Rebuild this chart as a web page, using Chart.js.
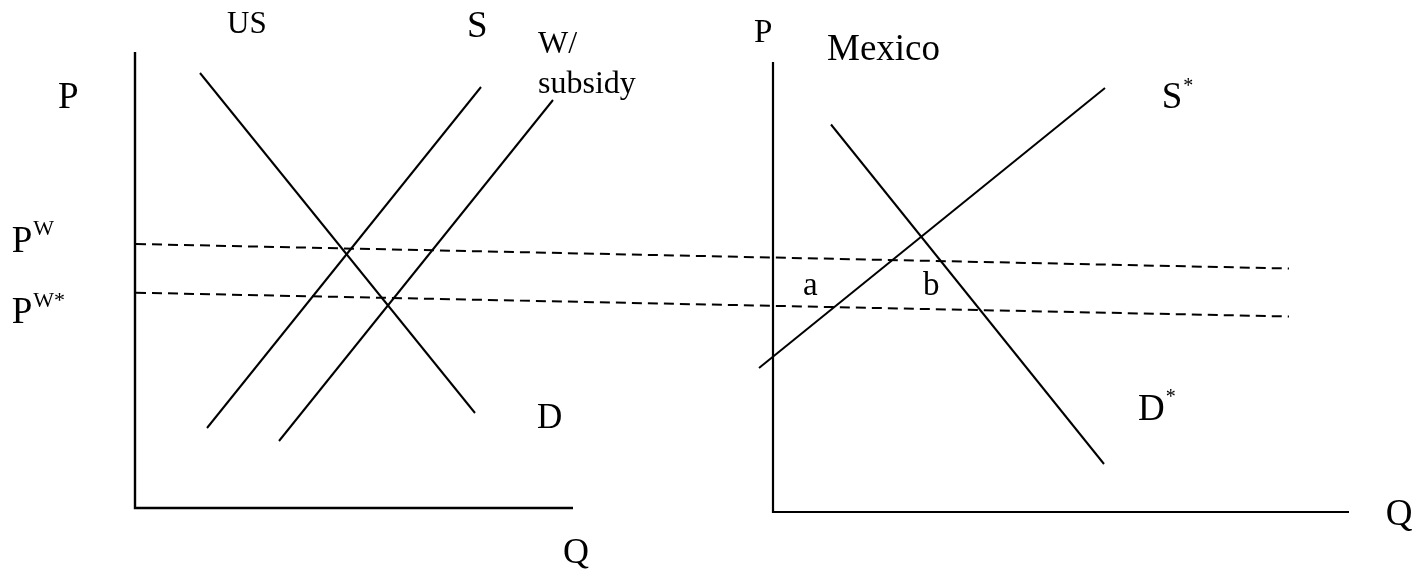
<!DOCTYPE html>
<html>
<head>
<meta charset="utf-8">
<script src="https://cdn.jsdelivr.net/npm/chart.js@4"></script>
<style>
  html, body { margin: 0; padding: 0; background: #fff; }
  #wrap { width: 1424px; height: 571px; }
</style>
</head>
<body>
<div id="wrap"><canvas id="tradeChart" width="1424" height="571"></canvas></div>
<script>
// diagram units: x = quantity axis of the sketch, y = price axis (measured downward from top)
const usAxes = [[135, 52], [135, 508], [573, 508]];
const mexicoAxes = [[773, 62], [773, 512], [1349, 512]];
const usDemand = [[200, 73], [475, 413]];
const usSupply = [[207, 428], [481, 87]];
const usSupplySubsidy = [[279, 441], [553, 100]];
const worldPrice = [[136, 244], [1289, 268.5]];
const worldPriceSubsidy = [[136, 292.7], [1289, 316.5]];
const mexicoSupply = [[759, 368], [1105, 88]];
const mexicoDemand = [[831, 124.5], [1104, 464]];

// text labels: [text, superscript, x, baseline y, size, superscript size]
const labels = [
  ['US', '', 227, 32.7, 31, 0],
  ['S', '', 467, 36.7, 37, 0],
  ['W/', '', 538, 53.3, 32, 0],
  ['subsidy', '', 538, 93, 32, 0],
  ['P', '', 58, 108, 37, 0],
  ['P', 'W', 11.7, 251.7, 37, 22],
  ['P', 'W*', 11.7, 323.3, 37, 22],
  ['D', '', 537, 428.3, 35, 0],
  ['Q', '', 563, 562.7, 36, 0],
  ['P', '', 754, 41.7, 33, 0],
  ['Mexico', '', 827, 60, 37, 0],
  ['S', '*', 1161.7, 108.3, 37, 20],
  ['a', '', 803, 295, 33, 0],
  ['b', '', 923, 295, 33, 0],
  ['D', '*', 1138, 420, 37, 20],
  ['Q', '', 1385.7, 525, 37, 0]
];

const toPts = arr => arr.map(p => ({ x: p[0], y: p[1] }));

function line(data, width, dash) {
  return {
    data: toPts(data),
    showLine: true,
    borderColor: '#000',
    borderWidth: width,
    borderDash: dash || [],
    pointRadius: 0,
    fill: false,
    tension: 0
  };
}

const labelPlugin = {
  id: 'sketchLabels',
  afterDatasetsDraw(chart) {
    const ctx = chart.ctx;
    const xs = chart.scales.x, ys = chart.scales.y;
    ctx.save();
    ctx.fillStyle = '#000';
    ctx.textBaseline = 'alphabetic';
    ctx.textAlign = 'left';
    labels.forEach(([txt, sup, x, y, size, supSize]) => {
      const px = xs.getPixelForValue(x);
      const py = ys.getPixelForValue(y);
      ctx.font = size + 'px "Liberation Serif", "Times New Roman", serif';
      ctx.fillText(txt, px, py);
      if (sup) {
        const w = ctx.measureText(txt).width;
        ctx.font = supSize + 'px "Liberation Serif", "Times New Roman", serif';
        ctx.fillText(sup, px + w + 1, py - size * 0.45);
      }
    });
    ctx.restore();
  }
};

const ctx = document.getElementById('tradeChart').getContext('2d');
const tradeChart = new Chart(ctx, {
  type: 'scatter',
  data: {
    datasets: [
      line(usAxes, 2.4),
      line(mexicoAxes, 2.2),
      line(usDemand, 2),
      line(usSupply, 2),
      line(usSupplySubsidy, 2),
      line(worldPrice, 2, [10, 6]),
      line(worldPriceSubsidy, 2, [10, 6]),
      line(mexicoSupply, 2),
      line(mexicoDemand, 2)
    ]
  },
  options: {
    responsive: false,
    devicePixelRatio: 1,
    animation: false,
    layout: { padding: 0 },
    plugins: {
      legend: { display: false },
      tooltip: { enabled: false },
      title: { display: false }
    },
    scales: {
      x: { type: 'linear', min: 0, max: 1424, display: false },
      y: { type: 'linear', min: 0, max: 571, reverse: true, display: false }
    }
  },
  plugins: [labelPlugin]
});
</script>
</body>
</html>
